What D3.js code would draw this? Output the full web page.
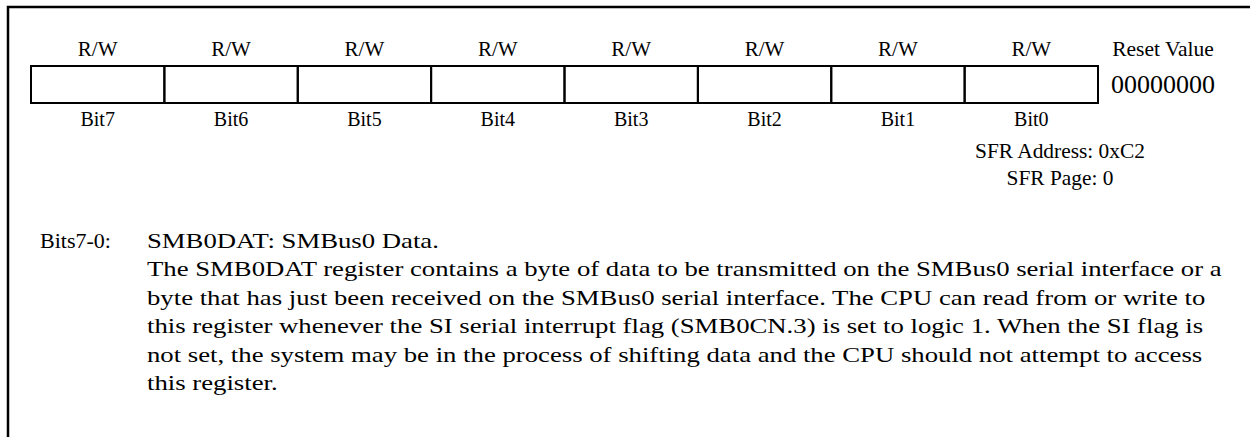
<!DOCTYPE html>
<html>
<head>
<meta charset="utf-8">
<script src="https://cdn.jsdelivr.net/npm/d3@7"></script>
<style>
  html, body { margin: 0; padding: 0; background: #fff; }
  svg { display: block; }
  text { font-family: "Liberation Serif", "Times New Roman", serif; fill: #000; }
</style>
</head>
<body>
<svg id="chart" width="1250" height="437"></svg>
<script>
// ---- data ----
const bitNames = ["Bit7", "Bit6", "Bit5", "Bit4", "Bit3", "Bit2", "Bit1", "Bit0"];
const accessTypes = ["R/W", "R/W", "R/W", "R/W", "R/W", "R/W", "R/W", "R/W"];
const resetLabel = "Reset Value";
const resetValue = "00000000";
const sfrInfo = ["SFR Address: 0xC2", "SFR Page: 0"];
const descLabel = "Bits7-0:";
const descLines = [
  "SMB0DAT: SMBus0 Data.",
  "The SMB0DAT register contains a byte of data to be transmitted on the SMBus0 serial interface or a",
  "byte that has just been received on the SMBus0 serial interface. The CPU can read from or write to",
  "this register whenever the SI serial interrupt flag (SMB0CN.3) is set to logic 1. When the SI flag is",
  "not set, the system may be in the process of shifting data and the CPU should not attempt to access",
  "this register."
];

// ---- drawing ----
const svg = d3.select("#chart");

// outer frame (top and left edges)
svg.append("path")
  .attr("d", "M8,437 L8,7 L1250,7")
  .attr("fill", "none")
  .attr("stroke", "#000")
  .attr("stroke-width", 2.5);

const x = d3.scaleBand().domain(bitNames).range([31, 1098]).padding(0);
const boxTop = 66, boxBottom = 103;

// cells
svg.append("g").selectAll("rect")
  .data(bitNames)
  .join("rect")
  .attr("x", d => x(d))
  .attr("y", boxTop)
  .attr("width", x.bandwidth())
  .attr("height", boxBottom - boxTop)
  .attr("fill", "none")
  .attr("stroke", "#000")
  .attr("stroke-width", 2);

// access labels
svg.append("g").selectAll("text")
  .data(bitNames)
  .join("text")
  .attr("x", d => x(d) + x.bandwidth() / 2)
  .attr("y", 56)
  .attr("text-anchor", "middle")
  .style("font-size", "21px")
  .text((d, i) => accessTypes[i]);

// bit name labels
svg.append("g").selectAll("text")
  .data(bitNames)
  .join("text")
  .attr("x", d => x(d) + x.bandwidth() / 2)
  .attr("y", 126)
  .attr("text-anchor", "middle")
  .style("font-size", "20px")
  .text(d => d);

// reset value
svg.append("text").attr("x", 1163).attr("y", 56).attr("text-anchor", "middle")
  .style("font-size", "21.5px").text(resetLabel);
svg.append("text").attr("x", 1163).attr("y", 93).attr("text-anchor", "middle")
  .style("font-size", "26px").text(resetValue);

// SFR info
svg.append("g").selectAll("text")
  .data(sfrInfo)
  .join("text")
  .attr("x", 1060)
  .attr("y", (d, i) => 158 + i * 27)
  .attr("text-anchor", "middle")
  .style("font-size", "21.4px")
  .text(d => d);

// description
svg.append("text").attr("x", 40).attr("y", 248)
  .style("font-size", "22px").text(descLabel);
svg.append("g")
  .attr("transform", "translate(147,0) scale(1.215,1)")
  .selectAll("text")
  .data(descLines)
  .join("text")
  .attr("x", 0)
  .attr("y", (d, i) => 248 + i * 28.4)
  .style("font-size", "22px")
  .text(d => d);
</script>
</body>
</html>
